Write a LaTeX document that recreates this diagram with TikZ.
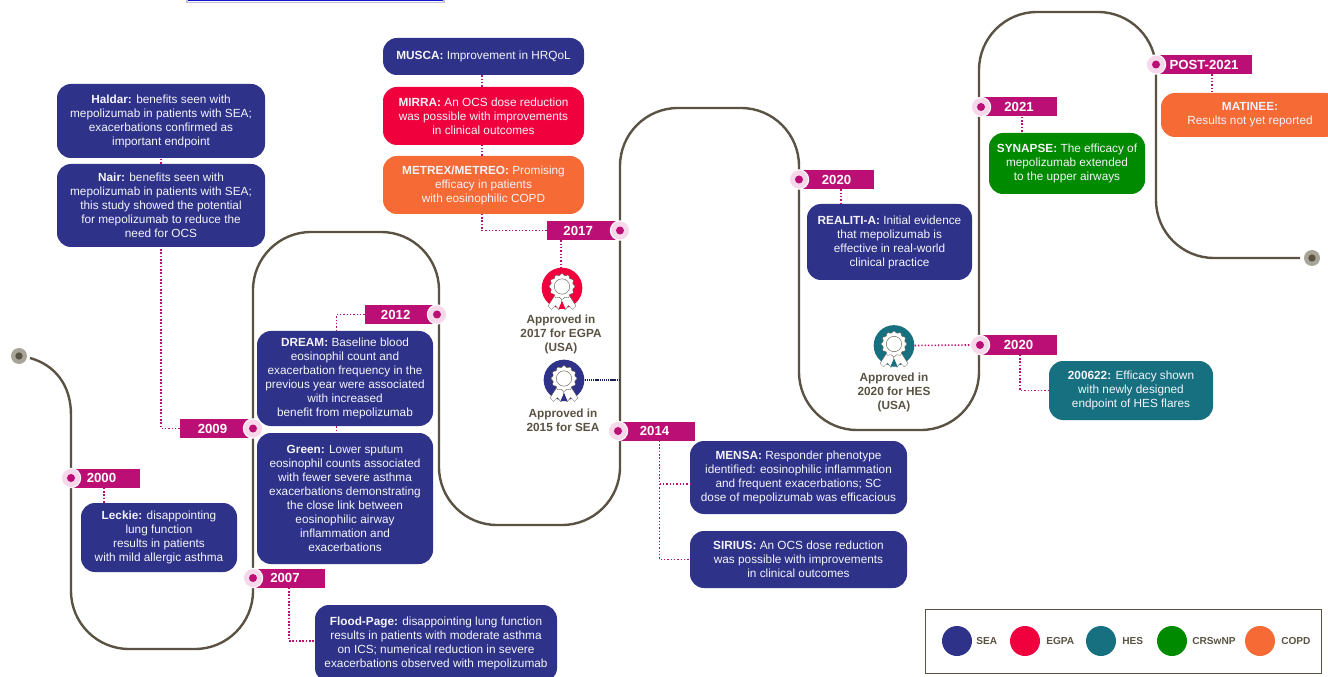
\documentclass[tikz,border=0pt]{standalone}
\usepackage{fontspec}
\setmainfont{Liberation Sans}
\definecolor{sea}{HTML}{2E3288}
\definecolor{egpa}{HTML}{F0003C}
\definecolor{hes}{HTML}{17707F}
\definecolor{crs}{HTML}{008A00}
\definecolor{copd}{HTML}{F56A35}
\definecolor{mag}{HTML}{BC0F75}
\definecolor{halo}{HTML}{F6D8EA}
\definecolor{trail}{HTML}{5A5344}
\definecolor{startc}{HTML}{A8A498}
\definecolor{txtw}{HTML}{F4F4FA}
\tikzset{
  box/.style={draw=none,rounded corners=10.5pt,inner sep=0pt,align=center,text=txtw,
    font=\fontsize{8.85}{10.5}\selectfont},
  yeartag/.style={fill=mag,inner sep=0pt,text=white,minimum height=14.25pt,
    font=\fontsize{9.9}{11}\selectfont\bfseries},
  halodot/.style={circle,fill=halo,draw=white,line width=.8pt,inner sep=0pt,minimum size=14.5pt},
  coredot/.style={circle,fill=mag,inner sep=0pt,minimum size=6pt},
  link/.style={draw=mag,line width=1.2pt,dash pattern=on 1.1pt off 1.4pt},
  trailline/.style={draw=trail,line width=1.8pt},
  apptext/.style={align=center,text=trail,inner sep=0pt,font=\fontsize{8.85}{10.5}\selectfont\bfseries},
  legtext/.style={anchor=west,text=trail,inner sep=0pt,font=\fontsize{7.6}{9}\selectfont\bfseries},
  legdot/.style={circle,inner sep=0pt,minimum size=22.5pt},
  ribbon/.style={fill=white,draw=trail,line width=.25pt,line join=round}
}
% name, x1, y1, x2, y2, colour, text
\newcommand{\bx}[7]{\node[box,fill=#6,minimum width={(#4-#2)*0.75pt},minimum height={(#5-#3)*0.75pt}] (#1) at ({(#2+#4)/2},{(#3+#5)/2}) {#7};}
% name, x1, x2, ycentre, text, dot x
\newcommand{\yr}[6]{\node[yeartag,minimum width={(#3-#2)*0.75pt}] (#1) at ({(#2+#3)/2},#4) {#5};
  \node[halodot] (#1h) at (#6,#4) {}; \node[coredot] at (#1h.center) {};}
% name, x, y, colour
\newcommand{\badge}[4]{%
  \node[circle,fill=#4,inner sep=0pt,minimum size=30.5pt] (#1) at (#2,#3) {};
  \begin{scope}[shift={(#2,#3)}]
    \draw[ribbon] (-7,7) -- (-14,18) -- (-10.5,21.5) -- (-6.5,17.5) -- (-3,22) -- (1,11) -- cycle;
    \draw[ribbon] (7,7) -- (14,18) -- (10.5,21.5) -- (6.5,17.5) -- (3,22) -- (-1,11) -- cycle;
    \fill[#4] (0,13) -- (-3.5,21) -- (3.5,21) -- cycle;
    \draw[fill=white,draw=trail,line width=.25pt] plot[smooth cycle,samples=72,domain=0:355] ({(12+.9*cos(12*\x))*cos(\x)},{(12+.9*cos(12*\x))*sin(\x)-1.5});
    \draw[fill=white,draw=trail,line width=.3pt] (0,-1.5) circle (7.7);
  \end{scope}}
\begin{document}
\begin{tikzpicture}[x=0.75pt,y=-0.75pt]
\useasboundingbox (0,0) rectangle (1328,677);
% scrap of frame at top
\draw[draw=sea!30!white,line width=1pt] (187,0) -- (187,2.4) -- (444,2.4) -- (444,0);
\draw[draw=blue!55!sea,line width=1pt] (188,.6) -- (443,.6);
% trail
\draw[trailline] (30,358) .. controls (55,365) and (71,385) .. (71,415);
\draw[trailline,rounded corners=43.5pt] (71,415)
  -- (71,649) -- (253,649) -- (253,232) -- (439,232) -- (439,525) -- (620,525) -- (620,108)
  -- (799,108) -- (799,430) -- (979,430) -- (979,12) -- (1156,12) -- (1156,258) -- (1300,258);
\node[circle,fill=startc,inner sep=0pt,minimum size=12pt] (st) at (19,356) {};
\node[circle,fill=trail,inner sep=0pt,minimum size=5.5pt] at (st.center) {};
\node[circle,fill=startc,inner sep=0pt,minimum size=12pt] (en) at (1312,258) {};
\node[circle,fill=trail,inner sep=0pt,minimum size=5.5pt] at (en.center) {};
% boxes
\bx{haldar}{57}{84}{265}{158}{sea}{\textbf{Haldar:} benefits seen with\\mepolizumab in patients with SEA;\\exacerbations confirmed as\\important endpoint}
\bx{nair}{57}{164}{265}{247}{sea}{\textbf{Nair:} benefits seen with\\mepolizumab in patients with SEA;\\this study showed the potential\\for mepolizumab to reduce the\\need for OCS}
\bx{musca}{383}{38}{584}{75}{sea}{\textbf{MUSCA:} Improvement in HRQoL}
\bx{mirra}{383}{87}{584}{145}{egpa}{\textbf{MIRRA:} An OCS dose reduction\\was possible with improvements\\in clinical outcomes}
\bx{metrex}{383}{156}{584}{214}{copd}{\textbf{METREX/METREO:} Promising\\efficacy in patients\\with eosinophilic COPD}
\bx{dream}{257}{331}{433}{426}{sea}{\textbf{DREAM:} Baseline blood\\eosinophil count and\\exacerbation frequency in the\\previous year were associated\\with increased\\benefit from mepolizumab}
\bx{green}{257}{433}{433}{564}{sea}{\textbf{Green:} Lower sputum\\eosinophil counts associated\\with fewer severe asthma\\exacerbations demonstrating\\the close link between\\eosinophilic airway\\inflammation and\\exacerbations}
\bx{leckie}{81}{503}{237}{572}{sea}{\textbf{Leckie:} disappointing\\lung function\\results in patients\\with mild allergic asthma}
\bx{flood}{315}{605}{557}{682}{sea}{\textbf{Flood-Page:} disappointing lung function\\results in patients with moderate asthma\\on ICS; numerical reduction in severe\\exacerbations observed with mepolizumab}
\bx{mensa}{690}{441}{907}{514}{sea}{\textbf{MENSA:} Responder phenotype\\identified: eosinophilic inflammation\\and frequent exacerbations; SC\\dose of mepolizumab was efficacious}
\bx{sirius}{690}{531}{907}{588}{sea}{\textbf{SIRIUS:} An OCS dose reduction\\was possible with improvements\\in clinical outcomes}
\bx{realiti}{807}{204}{972}{280}{sea}{\textbf{REALITI-A:} Initial evidence\\that mepolizumab is\\effective in real-world\\clinical practice}
\bx{hesbox}{1049}{361}{1213}{420}{hes}{\textbf{200622:} Efficacy shown\\with newly designed\\endpoint of HES flares}
\bx{synapse}{989}{133}{1145}{194}{crs}{\textbf{SYNAPSE:} The efficacy of\\mepolizumab extended\\to the upper airways}
\bx{matinee}{1161}{93}{1339}{137}{copd}{\textbf{MATINEE:}\\Results not yet reported}
% year tags
\yr{y2000}{71}{140}{478}{\kern-6pt 2000}{71}
\yr{y2009}{180}{253}{428.5}{\kern-6pt 2009}{253}
\yr{y2007}{253}{325}{578}{\kern-6pt 2007}{253}
\yr{y2012}{365}{437}{314.5}{\kern-8pt 2012}{437}
\yr{y2017}{547}{620}{230.5}{\kern-8pt 2017}{620}
\yr{y2014}{618}{695}{431}{\kern-3pt 2014}{618}
\yr{y2020a}{799}{874}{179.5}{2020}{799}
\yr{y2020b}{980}{1057}{345}{2020}{980}
\yr{y2021}{981}{1057}{107}{2021}{981}
\yr{ypost}{1156}{1252}{64.5}{POST-2021}{1156}
% badges
\badge{begpa}{562}{288}{egpa}
\badge{bsea}{564}{380}{sea}
\badge{bhes}{894}{345.5}{hes}
\node[apptext] (tegpa) at (561,334.5) {Approved in\\2017 for EGPA\\(USA)};
\node[apptext] (tsea) at (563,420) {Approved in\\2015 for SEA};
\node[apptext] (thes) at (894,392) {Approved in\\2020 for HES\\(USA)};
% connector columns
\coordinate (c1) at (104,0);
\coordinate (c2) at (161,0);
\coordinate (c3) at (289,0);
\coordinate (c4) at (336.5,0);
\coordinate (c5) at (482,0);
\coordinate (c6) at (561,0);
\coordinate (c7) at (659.5,0);
\coordinate (c8) at (841,0);
\coordinate (c9) at (1020,0);
\coordinate (c10) at (1022,0);
\coordinate (c11) at (1212,0);
\coordinate (r2) at (0,484);
\coordinate (t1) at (620,380);
\draw[link] (c1 |- y2000.south) -- (c1 |- leckie.north);
\draw[link] (y2009.west) -| (c2 |- nair.south);
\draw[link] (c2 |- nair.north) -- (c2 |- haldar.south);
\draw[link] (c3 |- y2007.south) |- (flood.west |- 0,641);
\draw[link] (y2012.west) -| (c4 |- dream.north);
\draw[link] (c4 |- dream.south) -- (c4 |- green.north);
\draw[link] (y2017.west) -| (c5 |- metrex.south);
\draw[link] (c5 |- metrex.north) -- (c5 |- mirra.south);
\draw[link] (c5 |- mirra.north) -- (c5 |- musca.south);
\draw[link] (c6 |- y2017.south) -- (c6 |- begpa.north);
\draw[draw=sea!60!black,line width=1.1pt,dash pattern=on 1pt off .6pt] (bsea.east) -- (t1);
\draw[link] (c7 |- y2014.south) |- (mensa.west |- r2);
\draw[link] (c7 |- r2) |- (sirius.west);
\draw[link] (c8 |- y2020a.south) -- (c8 |- realiti.north);
\draw[link] (bhes.east) -- (y2020bh.west);
\draw[link] (c9 |- y2020b.south) |- (hesbox.west);
\draw[link] (c10 |- y2021.south) -- (c10 |- synapse.north);
\draw[link] (c11 |- ypost.south) -- (c11 |- matinee.north);
% legend
\node[draw=trail,line width=.6pt,inner sep=0pt,minimum width=297pt,minimum height=48pt] (legend) at (1123,641) {};
\node[legdot,fill=sea] (l1) at (957,641) {};
\node[legdot,fill=egpa] (l2) at (1025,641) {};
\node[legdot,fill=hes] (l3) at (1101,641) {};
\node[legdot,fill=crs] (l4) at (1172,641) {};
\node[legdot,fill=copd] (l5) at (1260,641) {};
\node[legtext] at (976,641) {SEA};
\node[legtext] at (1046,641) {EGPA};
\node[legtext] at (1122,641) {HES};
\node[legtext] at (1192,641) {CRSwNP};
\node[legtext] at (1281,641) {COPD};
\end{tikzpicture}
\end{document}
